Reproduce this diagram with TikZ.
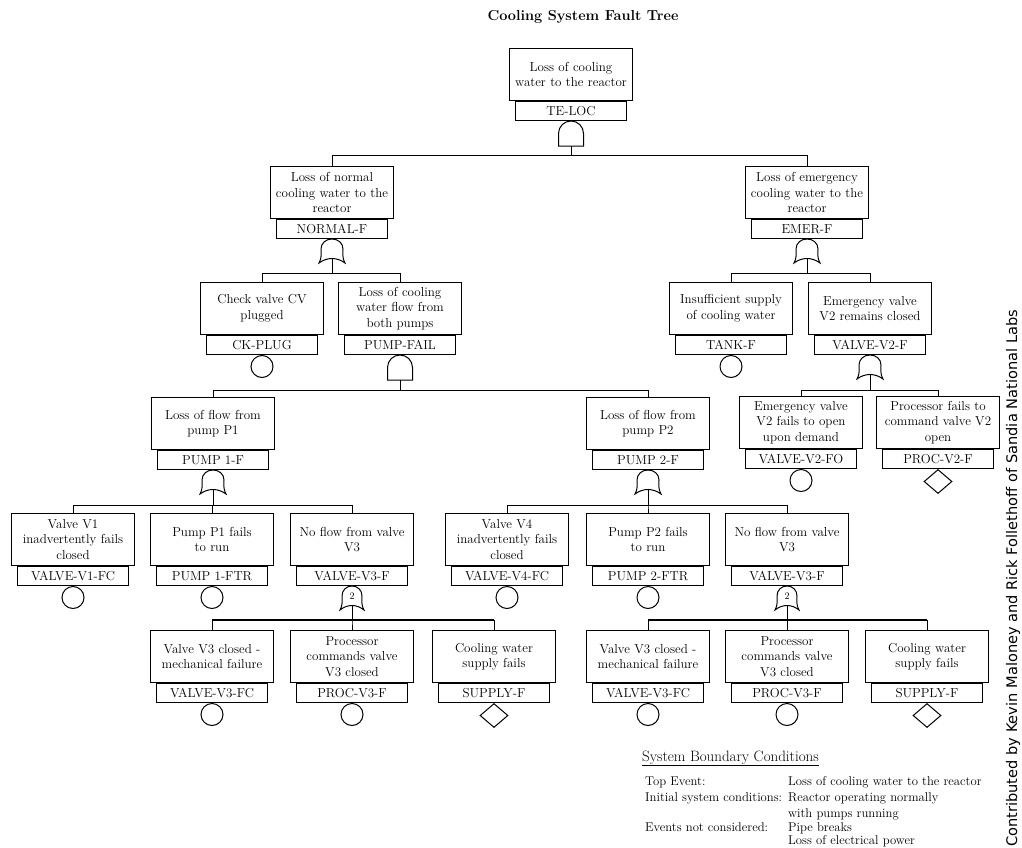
\documentclass[tikz,border=0pt]{standalone}
\usepackage{fontspec}
\newfontfamily\credfont{DejaVu Sans}
\usetikzlibrary{shapes.geometric}
\newcommand\evfont{\fontsize{13}{15.5}\selectfont}
\tikzset{
 evbox/.style={draw, line width=1pt, anchor=north, minimum height=52pt, text width=119pt, inner xsep=2pt, inner ysep=0pt, align=center, font=\evfont, fill=white},
 lblbox/.style={draw, line width=1pt, anchor=north, minimum width=111pt, minimum height=19pt, inner sep=0pt, font=\evfont, fill=white},
 basicev/.style={circle, draw, line width=1pt, anchor=north, minimum size=22pt, inner sep=0pt},
 undevev/.style={diamond, draw, line width=1pt, anchor=north, minimum width=28pt, minimum height=24pt, inner sep=0pt},
 connline/.style={line width=1pt},
 thickbar/.style={line width=2.6pt},
 gateline/.style={line width=1pt, fill=white},
 bnd/.style={anchor=base west, inner sep=0pt, font=\fontsize{12.7}{15}\selectfont},
 andgate/.pic={\draw[gateline] (-12.5,25) -- (-12.5,12.5) arc[start angle=180, end angle=360, radius=12.5] -- (12.5,25) -- cycle;
   \coordinate (-out) at (0,25);},
 orgate/.pic={\draw[gateline] (-13,24) .. controls (-10,19) and (-11,14) .. (-11,10) .. controls (-11,4) and (-6,0) .. (0,0) .. controls (6,0) and (11,4) .. (11,10) .. controls (11,14) and (10,19) .. (13,24) .. controls (5,18) and (-5,18) .. cycle;
   \coordinate (-out) at (0,19.5);},
 votegate/.pic={\draw[gateline] (-12,24) .. controls (-9,19) and (-10,14) .. (-10,10) .. controls (-10,4) and (-5.5,0) .. (0,0) .. controls (5.5,0) and (10,4) .. (10,10) .. controls (10,14) and (9,19) .. (12,24) .. controls (4.5,18) and (-4.5,18) .. cycle;
   \node[inner sep=0pt, font=\fontsize{10}{10}\selectfont] (-n) at (0,10.5) {2};
   \coordinate (-out) at (0,19.5);},
}
\newcommand\evt[5]{\node[evbox] (#1) at (#2,#3) {#4}; \node[lblbox] (#1-l) at (#1.south) {#5};}
\newcommand\basicsym[1]{\node[basicev] (#1-s) at (#1-l.south) {};}
\newcommand\undevsym[1]{\node[undevev] (#1-s) at (#1-l.south) {};}
\newcommand\link[3]{\draw[connline] (#1-g-out) -- (#1-g-out |- #2) -| (#3.north);}
\begin{document}
\begin{tikzpicture}[x=1pt, y=-1pt]
\fill[white] (0,0) rectangle (1022,848);
\useasboundingbox (0,0) rectangle (1022,848);
\node[font=\bfseries\fontsize{14.5}{17}\selectfont] (title) at (583,17) {Cooling System Fault Tree};
% bars
\coordinate (bte) at (0,155);
\coordinate (bnf) at (0,273);
\coordinate (bef) at (0,273);
\coordinate (bpf) at (0,390);
\coordinate (bvtwo) at (0,390);
\coordinate (bpa) at (0,505);
\coordinate (bpb) at (0,505);
\coordinate (bvta) at (0,620);
\coordinate (bvtb) at (0,620);
% events
\evt{te}{571}{48}{Loss of cooling\\water to the reactor}{TE-LOC}
\evt{nf}{332}{166}{Loss of normal\\cooling water to the\\reactor}{NORMAL-F}
\evt{ef}{807}{166}{Loss of emergency\\cooling water to the\\reactor}{EMER-F}
\evt{ck}{262}{282}{Check valve CV\\plugged}{CK-PLUG}
\evt{pf}{400}{282}{Loss of cooling\\water flow from\\both pumps}{PUMP-FAIL}
\evt{tk}{731}{282}{Insufficient supply\\of cooling water}{TANK-F}
\evt{vtwo}{870}{282}{Emergency valve\\V2 remains closed}{VALVE-V2-F}
\evt{pa}{213}{397}{Loss of flow from\\pump P1}{PUMP 1-F}
\evt{pb}{648}{397}{Loss of flow from\\pump P2}{PUMP 2-F}
\evt{vfo}{801}{396}{Emergency valve\\V2 fails to open\\upon demand}{VALVE-V2-FO}
\evt{pvtwo}{938}{396}{Processor fails to\\command valve V2\\open}{PROC-V2-F}
\evt{vone}{73}{513}{Valve V1\\inadvertently fails\\closed}{VALVE-V1-FC}
\evt{pftra}{212}{513}{Pump P1 fails\\to run}{PUMP 1-FTR}
\evt{vta}{352}{513}{No flow from valve\\V3}{VALVE-V3-F}
\evt{vfour}{507}{513}{Valve V4\\inadvertently fails\\closed}{VALVE-V4-FC}
\evt{pftrb}{648}{513}{Pump P2 fails\\to run}{PUMP 2-FTR}
\evt{vtb}{787}{513}{No flow from valve\\V3}{VALVE-V3-F}
\evt{vfca}{212}{630}{Valve V3 closed -\\mechanical failure}{VALVE-V3-FC}
\evt{pra}{352}{630}{Processor\\commands valve\\V3 closed}{PROC-V3-F}
\evt{sua}{494}{630}{Cooling water\\supply fails}{SUPPLY-F}
\evt{vfcb}{648}{630}{Valve V3 closed -\\mechanical failure}{VALVE-V3-FC}
\evt{prb}{787}{630}{Processor\\commands valve\\V3 closed}{PROC-V3-F}
\evt{sub}{927}{630}{Cooling water\\supply fails}{SUPPLY-F}
% gates
\pic (te-g) at (te-l.south) {andgate};
\pic (nf-g) at (nf-l.south) {orgate};
\pic (ef-g) at (ef-l.south) {orgate};
\pic (pf-g) at (pf-l.south) {andgate};
\pic (vtwo-g) at (vtwo-l.south) {orgate};
\pic (pa-g) at (pa-l.south) {orgate};
\pic (pb-g) at (pb-l.south) {orgate};
\pic (vta-g) at (vta-l.south) {votegate};
\pic (vtb-g) at (vtb-l.south) {votegate};
% basic / undeveloped events
\basicsym{ck}\basicsym{tk}\basicsym{vfo}\basicsym{vone}\basicsym{pftra}
\basicsym{vfour}\basicsym{pftrb}\basicsym{vfca}\basicsym{pra}\basicsym{vfcb}\basicsym{prb}
\undevsym{pvtwo}\undevsym{sua}\undevsym{sub}
% connectors
\link{te}{bte}{nf}\link{te}{bte}{ef}
\link{nf}{bnf}{ck}\link{nf}{bnf}{pf}
\link{ef}{bef}{tk}\link{ef}{bef}{vtwo}
\link{pf}{bpf}{pa}\link{pf}{bpf}{pb}
\link{vtwo}{bvtwo}{vfo}\link{vtwo}{bvtwo}{pvtwo}
\link{pa}{bpa}{vone}\link{pa}{bpa}{pftra}\link{pa}{bpa}{vta}
\link{pb}{bpb}{vfour}\link{pb}{bpb}{pftrb}\link{pb}{bpb}{vtb}
\link{vta}{bvta}{vfca}\link{vta}{bvta}{pra}\link{vta}{bvta}{sua}
\link{vtb}{bvtb}{vfcb}\link{vtb}{bvtb}{prb}\link{vtb}{bvtb}{sub}
\draw[thickbar] (vfca.north |- bvta) -- (sua.north |- bvta);
\draw[thickbar] (vfcb.north |- bvtb) -- (sub.north |- bvtb);
% boundary conditions
\node[bnd, font=\fontsize{15}{18}\selectfont] (bh) at (642,761) {\underline{System Boundary Conditions}};
\node[bnd] (b1a) at (645,785) {Top Event:};
\node[bnd] (b1b) at (788,785) {Loss of cooling water to the reactor};
\node[bnd] (b2a) at (645,801) {Initial system conditions:};
\node[bnd] (b2b) at (788,801) {Reactor operating normally};
\node[bnd] (b3b) at (788,817) {with pumps running};
\node[bnd] (b4a) at (645,831) {Events not considered:};
\node[bnd] (b4b) at (788,831) {Pipe breaks};
\node[bnd] (b5b) at (788,844) {Loss of electrical power};
% credit
\node[rotate=90, anchor=base west, inner sep=0pt, font=\credfont\fontsize{14.6}{14.6}\selectfont] (cred) at (1017,847) {Contributed by Kevin Maloney and Rick Follethoff of Sandia National Labs};
\end{tikzpicture}
\end{document}
